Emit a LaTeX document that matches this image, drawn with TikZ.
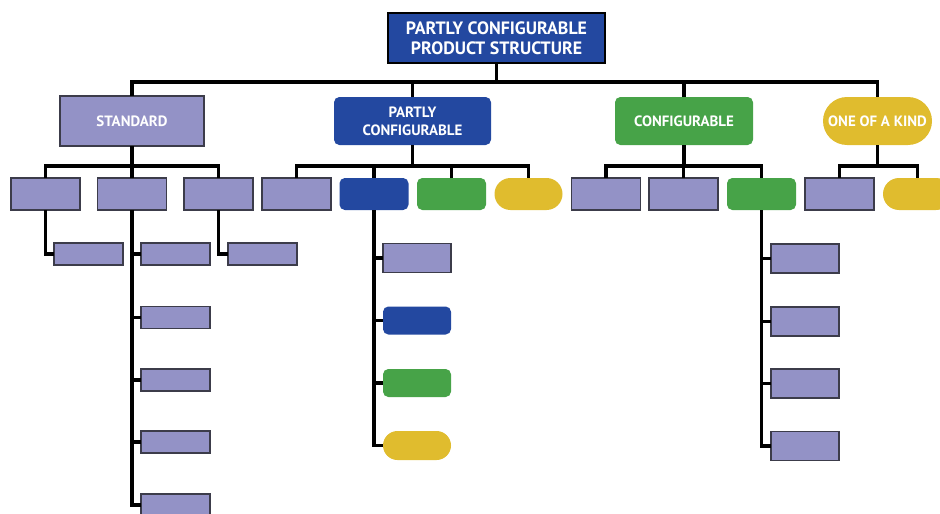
\documentclass[tikz,border=0pt]{standalone}
\usepackage{fontspec}
\setmainfont{PT Sans}
\definecolor{lav}{HTML}{9392C6}
\definecolor{edge}{HTML}{3C3C4A}
\definecolor{navy}{HTML}{2348A0}
\definecolor{leaf}{HTML}{47A348}
\definecolor{gold}{HTML}{E0BC2E}
\tikzset{
  conn/.style={line width=2.3pt, black},
  sz/.style 2 args={minimum width=#1*0.75pt, minimum height=#2*0.75pt},
  anybox/.style={rectangle, inner sep=0pt, outer sep=0pt, text=white,
    font=\bfseries\fontsize{11.2}{13.5}\selectfont, align=center},
  pbox/.style={anybox, draw=edge, fill=lav, line width=0.9pt},
  bbox/.style={anybox, fill=navy, rounded corners=4pt},
  gbox/.style={anybox, fill=leaf, rounded corners=4pt},
  ybox/.style={anybox, fill=gold, rounded corners=#1*0.75pt},
  rootbox/.style={anybox, draw=black, fill=navy, line width=0.9pt,
    font=\bfseries\fontsize{13.4}{15}\selectfont},
}
\begin{document}
\begin{tikzpicture}[x=0.75pt, y=-0.75pt]
\path[use as bounding box, clip] (0,0) rectangle (940,514);

% top level
\node[rootbox, sz={217}{50}] (root) at (496.5,38) {PARTLY CONFIGURABLE\\PRODUCT STRUCTURE};
\node[pbox, sz={144}{50}] (std) at (132,121) {STANDARD};
\node[bbox, sz={157}{48}] (pc) at (412.5,121) {PARTLY\\CONFIGURABLE};
\node[gbox, sz={138}{48}] (cfg) at (684,121) {CONFIGURABLE};
\node[ybox=24, sz={109}{48}] (ook) at (877.5,121) {ONE OF A KIND};

% second level
\node[pbox, sz={69}{32}] (s1) at (45.5,194) {};
\node[pbox, sz={69}{32}] (s2) at (132,194) {};
\node[pbox, sz={69}{32}] (s3) at (218.5,194) {};
\node[pbox, sz={69}{32}] (p1) at (296.5,194) {};
\node[bbox, sz={69}{32}] (p2) at (374,194) {};
\node[gbox, sz={69}{32}] (p3) at (451.5,194) {};
\node[ybox=16, sz={68}{32}] (p4) at (528.5,194) {};
\node[pbox, sz={69}{32}] (c1) at (606,194) {};
\node[pbox, sz={69}{32}] (c2) at (683.5,194) {};
\node[gbox, sz={69}{32}] (c3) at (761.5,194) {};
\node[pbox, sz={69}{32}] (o1) at (839.5,194) {};
\node[ybox=16, sz={69}{32}] (o2) at (917.5,194) {};

% third level under STANDARD
\node[pbox, sz={69}{22}] (s1a) at (88.5,254) {};
\node[pbox, sz={69}{22}] (s2a) at (175.5,254) {};
\node[pbox, sz={69}{22}] (s2b) at (175.5,317.5) {};
\node[pbox, sz={69}{22}] (s2c) at (175.5,380) {};
\node[pbox, sz={69}{22}] (s2d) at (175.5,442) {};
\node[pbox, sz={69}{22}] (s2e) at (175.5,505) {};
\node[pbox, sz={69}{22}] (s3a) at (262.5,254) {};

% third level under PARTLY CONFIGURABLE
\node[pbox, sz={68}{29}] (p2a) at (417,258) {};
\node[bbox, sz={68}{28}] (p2b) at (417,320.5) {};
\node[gbox, sz={68}{28}] (p2c) at (417,383) {};
\node[ybox=14.5, sz={68}{29}] (p2d) at (417,445.5) {};

% third level under CONFIGURABLE
\node[pbox, sz={68}{29}] (c3a) at (805,258.5) {};
\node[pbox, sz={68}{29}] (c3b) at (805,321.5) {};
\node[pbox, sz={68}{29}] (c3c) at (805,383.5) {};
\node[pbox, sz={68}{29}] (c3d) at (805,446) {};

% connectors: root to first level
\draw[conn] (root.south) -- (root.south |- 0,82);
\draw[conn] (std.north) -- (std.north |- 0,82) -- (ook.north |- 0,82) -- (ook.north);
\foreach \n in {pc,cfg} \draw[conn] (\n.north) -- (\n.north |- 0,82);

% first level to second level
\draw[conn] (std.south) -- (std.south |- 0,166);
\draw[conn] (s1.north) -- (s1.north |- 0,166) -- (s3.north |- 0,166) -- (s3.north);
\draw[conn] (s2.north) -- (s2.north |- 0,166);
\draw[conn] (pc.south) -- (pc.south |- 0,166);
\draw[conn] (p1.north) -- (p1.north |- 0,166) -- (p4.north |- 0,166) -- (p4.north);
\foreach \n in {p2,p3} \draw[conn] (\n.north) -- (\n.north |- 0,166);
\draw[conn] (cfg.south) -- (cfg.south |- 0,166);
\draw[conn] (c1.north) -- (c1.north |- 0,166) -- (c3.north |- 0,166) -- (c3.north);
\draw[conn] (c2.north) -- (c2.north |- 0,166);
\draw[conn] (ook.south) -- (ook.south |- 0,166);
\draw[conn] (o1.north) -- (o1.north |- 0,166) -- (o2.north |- 0,166) -- (o2.north);

% second level to third level
\draw[conn] (s1.south) |- (s1a.west);
\draw[conn] (s3.south) |- (s3a.west);
\draw[conn] (s2.south) |- (s2e.west);
\foreach \n in {s2a,s2b,s2c,s2d} \draw[conn] (\n.west) -- (\n.west -| s2.south);
\draw[conn] (p2.south) |- (p2d.west);
\foreach \n in {p2a,p2b,p2c} \draw[conn] (\n.west) -- (\n.west -| p2.south);
\draw[conn] (c3.south) |- (c3d.west);
\foreach \n in {c3a,c3b,c3c} \draw[conn] (\n.west) -- (\n.west -| c3.south);
\end{tikzpicture}
\end{document}
